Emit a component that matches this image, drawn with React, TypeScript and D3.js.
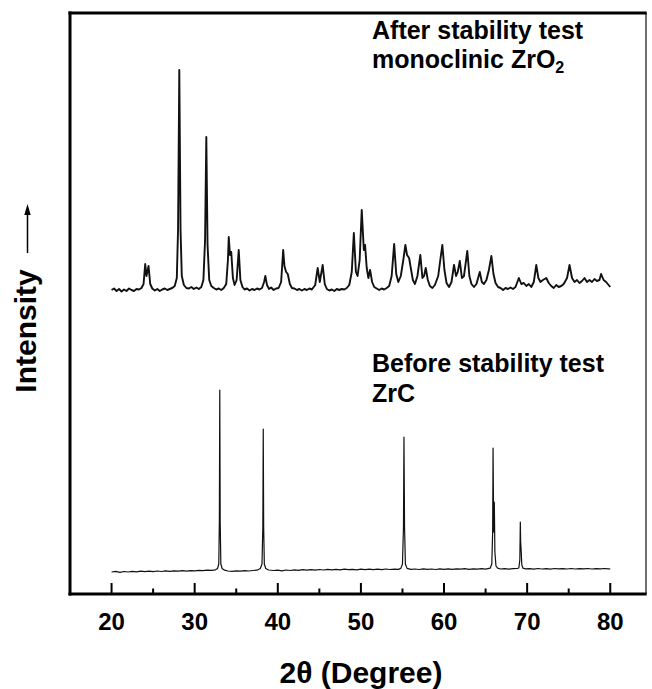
import React from "react";
import * as d3 from "d3";

// 2θ (degree), relative intensity (a.u.) — ZrC before stability test
const beforeTheta = [20,20.5,21,21.5,22,22.5,23,23.5,24,24.5,25,25.5,26,26.5,27,27.5,28,28.5,29,29.5,30,30.5,31,31.5,32,32.5,32.75,32.9,32.97,33.02,33.07,33.15,33.3,33.6,34,34.5,35,35.5,36,36.5,37,37.5,37.9,38.1,38.2,38.25,38.3,38.38,38.55,38.9,39.5,40,40.5,41,41.5,42,42.5,43,43.5,44,44.5,45,45.5,46,46.5,47,47.5,48,48.5,49,49.5,50,50.5,51,51.5,52,52.5,53,53.5,54,54.5,54.8,55.0,55.12,55.18,55.25,55.35,55.55,56,56.5,57,57.5,58,58.5,59,59.5,60,60.5,61,61.5,62,62.5,63,63.5,64,64.5,65,65.55,65.75,65.85,65.9,65.97,66.05,66.12,66.25,66.45,66.8,67.3,67.8,68.3,68.8,69.0,69.12,69.18,69.22,69.28,69.36,69.5,69.8,70.3,70.8,71.3,71.8,72.3,72.8,73.3,73.8,74.3,74.8,75.3,75.8,76.3,76.8,77.3,77.8,78.3,78.8,79.3,79.8,80];
const beforeIntensity = [0,0.6,-0.4,0.5,0,0.7,0.2,0.8,0.3,0.9,0.4,1,0.5,1.1,0.6,1.2,0.8,1.3,0.9,1.4,1.2,1.6,1.3,1.8,1.6,2.2,3.5,8,50,182,50,8,3.5,1.8,1,0.6,1.2,0.8,1.4,1,1.5,1.8,3.5,8,45,143,45,8,3.5,2,1.5,1.8,1.2,2,1.5,2.2,1.6,2.3,1.8,2.4,1.9,2.5,2,2.6,2.1,2.7,2.2,2.8,2.3,2.7,2.2,2.8,2.4,2.9,2.3,2.8,2.4,3,2.5,2.9,2.6,3.6,8,45,135,45,8,3.6,2.6,3,2.5,3.1,2.6,3,2.5,3.2,2.7,3.1,2.6,3.2,2.8,3.3,2.7,3.2,2.8,3.3,2.9,3.8,8,40,124,40,70,20,6,3.8,3,3.4,2.9,3.3,3.5,4,12,50,30,22,7,3.8,3.1,3.4,2.9,3.5,3,3.4,2.9,3.5,3.1,3.4,3,3.5,3,3.4,3.1,3.5,3,3.4,3.1,3.5,3.2,3];

// 2θ (degree), relative intensity (a.u.) — monoclinic ZrO2 after stability test
const afterTheta = [20,20.3,20.6,20.9,21.2,21.5,21.8,22.1,22.4,22.7,23,23.3,23.6,23.85,24.05,24.2,24.45,24.65,24.9,25.2,25.5,25.8,26.1,26.4,26.7,27,27.3,27.6,27.85,28,28.15,28.3,28.45,28.7,29,29.3,29.6,29.9,30.2,30.5,30.8,31.05,31.25,31.4,31.55,31.75,32,32.3,32.6,32.9,33.2,33.5,33.8,34,34.1,34.25,34.4,34.6,34.8,35.05,35.3,35.5,35.75,36,36.3,36.6,36.9,37.2,37.5,37.8,38.1,38.35,38.5,38.7,38.95,39.2,39.5,39.8,40.1,40.4,40.65,40.8,41,41.2,41.45,41.7,42,42.3,42.6,42.9,43.2,43.5,43.8,44.1,44.5,44.8,45.05,45.4,45.65,45.9,46.2,46.5,46.8,47.1,47.4,47.7,48,48.3,48.6,48.9,49.15,49.4,49.6,49.85,50.1,50.35,50.5,50.7,50.9,51.1,51.35,51.6,51.9,52.2,52.5,52.8,53.1,53.4,53.7,54,54.25,54.5,54.8,55.1,55.35,55.55,55.8,56,56.25,56.5,56.8,57.15,57.4,57.6,57.8,58.05,58.3,58.6,58.9,59.3,59.55,59.8,60.05,60.3,60.6,60.9,61.2,61.45,61.65,61.9,62.15,62.4,62.8,63.05,63.3,63.6,63.9,64.3,64.55,64.8,65.1,65.4,65.7,65.95,66.2,66.5,66.8,67.1,67.4,67.7,68,68.3,68.6,69,69.3,69.6,69.9,70.2,70.5,70.8,71.1,71.35,71.6,71.9,72.3,72.6,72.9,73.2,73.5,73.8,74.1,74.4,74.8,75.1,75.4,75.7,76,76.3,76.6,76.9,77.2,77.5,77.8,78.1,78.4,78.7,78.9,79.2,79.5,79.8,80];
const afterIntensity = [0,1.5,-1,1,-1.5,0.5,-1,1.5,0,-1,1,0.5,2,6,26,14,24,6,1.5,-0.5,1,-1,0.5,1.5,0,1,2,4,12,60,220,60,14,5,2,1.5,3,1,2.5,1,3,10,50,153,45,10,4,2,0.5,1.5,0,2,6,30,53,35,38,12,5,10,40,10,3,0.5,1.5,-0.5,1,0,1.5,0.5,2,8,14,5,1,2.5,0,1.5,2,8,40,24,18,16,6,2,1.5,0,1,-0.5,1,0,1.5,0.5,5,22,8,25,6,1,-0.5,0.5,-1,1,0,1,0.5,2,5,18,57,18,14,30,80,40,45,22,12,20,8,3,1.5,0,1.5,0.5,2,4,14,46,16,8,14,30,45,35,32,22,10,6,14,35,12,14,22,10,4,2,5,14,30,45,20,7,3,8,25,14,18,29,12,14,39,14,6,3,6,18,8,6,10,20,34,16,7,3,2,0,2,1,2.5,1,3,12,6,7,4,6,3,8,25,12,8,10,12,7,4,2,5,3,4,6,12,25,12,8,10,7,9,12,8,10,8,11,9,10,16,10,8,5,3];

const xMajorTicks = [20, 30, 40, 50, 60, 70, 80];
const xMinorTicks = [25, 35, 45, 55, 65, 75];

const W = 652, H = 689;
const L = 70, R = 646, T = 13, B = 594;
const font = "'Liberation Sans', Arial, Helvetica, sans-serif";

export default function App() {
  const x = d3.scaleLinear().domain([15, 84.3]).range([L, R]);
  const y = d3.scaleLinear().domain([0, B - T]).range([B, T]);
  const beforeOffset = 22;
  const afterOffset = 304;

  const line = d3
    .line<[number, number]>()
    .x((d) => x(d[0]))
    .y((d) => y(d[1]));

  const beforePts = beforeTheta.map((t, i) => [t, beforeIntensity[i] + beforeOffset] as [number, number]);
  const afterPts = afterTheta.map((t, i) => [t, afterIntensity[i] + afterOffset] as [number, number]);

  return (
    <svg width={W} height={H} style={{ position: "absolute", left: 0, top: 0, background: "#fff" }}>
      <rect x={0} y={0} width={W} height={H} fill="#fff" />
      <path d={line(afterPts) || ""} fill="none" stroke="#111" strokeWidth={1.9} strokeLinejoin="round" />
      <path d={line(beforePts) || ""} fill="none" stroke="#111" strokeWidth={1.2} strokeLinejoin="round" />

      {/* frame */}
      <line x1={R} y1={T} x2={R} y2={B} stroke="#222" strokeWidth={1.3} />
      <line x1={L - 1.5} y1={T} x2={R + 0.7} y2={T} stroke="#000" strokeWidth={3} />
      <line x1={L} y1={T - 1.5} x2={L} y2={B + 1.5} stroke="#000" strokeWidth={3} />
      <line x1={L - 1.5} y1={B} x2={R + 0.7} y2={B} stroke="#000" strokeWidth={3} />

      {xMajorTicks.map((t) => (
        <g key={"M" + t}>
          <line x1={x(t)} x2={x(t)} y1={B} y2={B - 11} stroke="#000" strokeWidth={2} />
          <text x={x(t)} y={630} textAnchor="middle" fontFamily={font} fontWeight="bold" fontSize={24}>
            {t}
          </text>
        </g>
      ))}
      {xMinorTicks.map((t) => (
        <line key={"m" + t} x1={x(t)} x2={x(t)} y1={B} y2={B - 5.5} stroke="#000" strokeWidth={2} />
      ))}

      <text x={361} y={683} textAnchor="middle" fontFamily={font} fontWeight="bold" fontSize={30}>
        2θ (Degree)
      </text>

      <text
        transform="translate(36,331) rotate(-90)"
        textAnchor="middle"
        fontFamily={font}
        fontWeight="bold"
        fontSize={30}
      >
        Intensity
      </text>
      <line x1={27.5} x2={27.5} y1={253} y2={213} stroke="#000" strokeWidth={1.5} />
      <path d="M27.5,204 L24.3,215 L30.7,215 Z" fill="#000" />

      <g fontFamily={font} fontWeight="bold" fontSize={25}>
        <text x={372} y={39}>After stability test</text>
        <text x={372} y={68}>
          monoclinic ZrO<tspan fontSize={16} dy={5}>2</tspan>
        </text>
        <text x={372} y={372}>Before stability test</text>
        <text x={372} y={402}>ZrC</text>
      </g>
    </svg>
  );
}
